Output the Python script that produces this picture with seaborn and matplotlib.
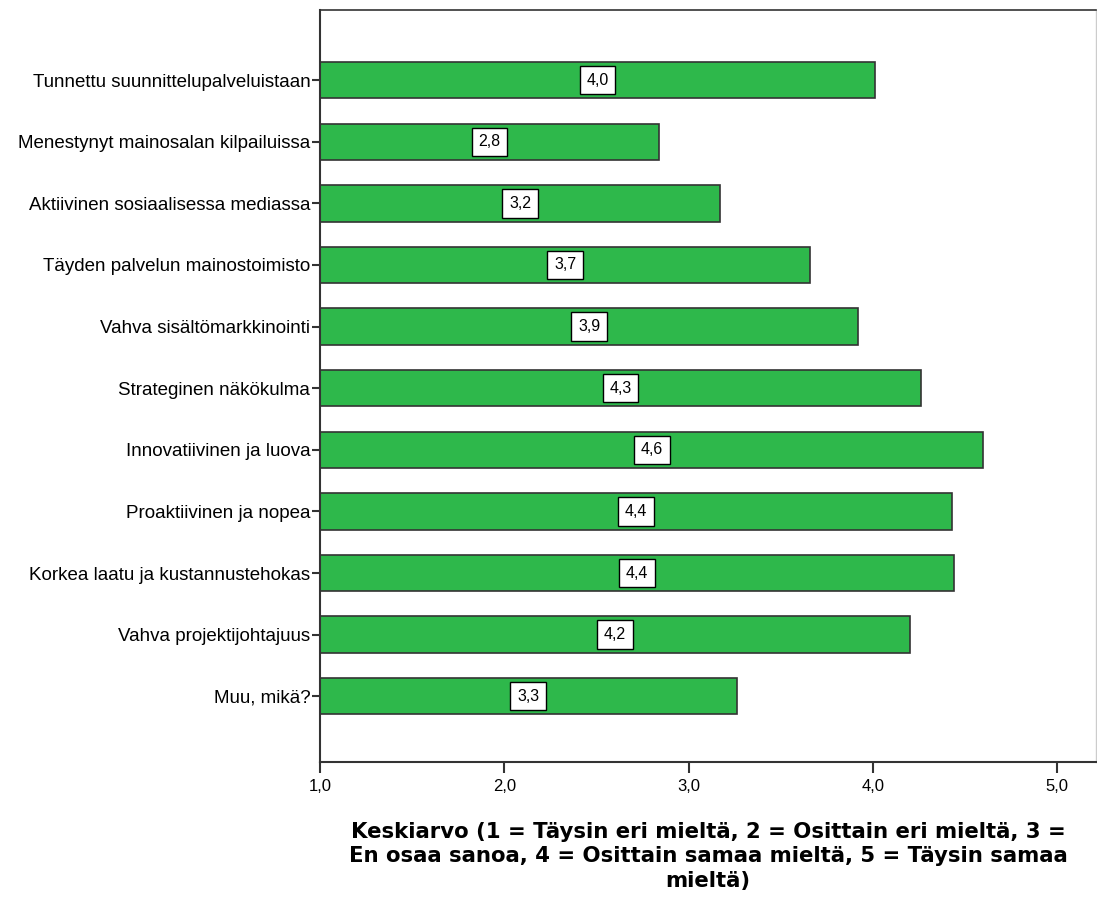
import matplotlib
matplotlib.use("Agg")
import matplotlib.pyplot as plt
import seaborn as sns
import pandas as pd

categories = [
    "Tunnettu suunnittelupalveluistaan",
    "Menestynyt mainosalan kilpailuissa",
    "Aktiivinen sosiaalisessa mediassa",
    "Täyden palvelun mainostoimisto",
    "Vahva sisältömarkkinointi",
    "Strateginen näkökulma",
    "Innovatiivinen ja luova",
    "Proaktiivinen ja nopea",
    "Korkea laatu ja kustannustehokas",
    "Vahva projektijohtajuus",
    "Muu, mikä?",
]
means = [4.01, 2.84, 3.17, 3.66, 3.92, 4.26, 4.60, 4.43, 4.44, 4.20, 3.26]
xticks = [1.0, 2.0, 3.0, 4.0, 5.0]
xlabel = ("Keskiarvo (1 = Täysin eri mieltä, 2 = Osittain eri mieltä, 3 =\n"
          "En osaa sanoa, 4 = Osittain samaa mieltä, 5 = Täysin samaa\n"
          "mieltä)")

df = pd.DataFrame({"kohde": categories, "keskiarvo": means})

sns.set_style("white")
plt.rcParams["font.family"] = ["Liberation Sans", "DejaVu Sans"]

fig = plt.figure(figsize=(10.97, 9.02), dpi=100)
ax = fig.add_axes([0.2917, 0.155, 0.7073, 0.834])

sns.barplot(data=df, y="kohde", x="keskiarvo", orient="h", color="#2eb84b",
            saturation=1, width=0.59, edgecolor="#333333", linewidth=1.2, ax=ax)

# value boxes sit at the middle of each bar
for i, v in enumerate(df["keskiarvo"]):
    ax.text((1 + v) / 2, i, f"{v:.1f}".replace(".", ","), ha="center", va="center",
            fontsize=11.5, color="black",
            bbox=dict(boxstyle="square,pad=0.42", fc="white", ec="black", lw=1))

ax.set_xlim(1.0, 5.21)
ax.set_ylim(len(categories) - 1 + 1.07, -1.14)
ax.set_xticks(xticks)
ax.set_xticklabels([f"{t:.1f}".replace(".", ",") for t in xticks], fontsize=12)
ax.tick_params(axis="y", labelsize=13.5, labelcolor="black", length=6, width=1.5,
               color="#333333", pad=1, left=True)
ax.tick_params(axis="x", labelcolor="black", length=8, width=1.5, color="#333333",
               pad=4, bottom=True)
ax.set_ylabel("")
ax.set_xlabel(xlabel, fontsize=15.3, fontweight="bold", family="DejaVu Sans",
              color="black", labelpad=20, linespacing=1.3)

for s in ["left", "bottom", "top"]:
    ax.spines[s].set_color("#333333")
    ax.spines[s].set_linewidth(1.5)
ax.spines["top"].set_linewidth(1.2)
ax.spines["right"].set_color("#cccccc")
ax.spines["right"].set_linewidth(1)

fig.savefig("out.png", dpi=100)
